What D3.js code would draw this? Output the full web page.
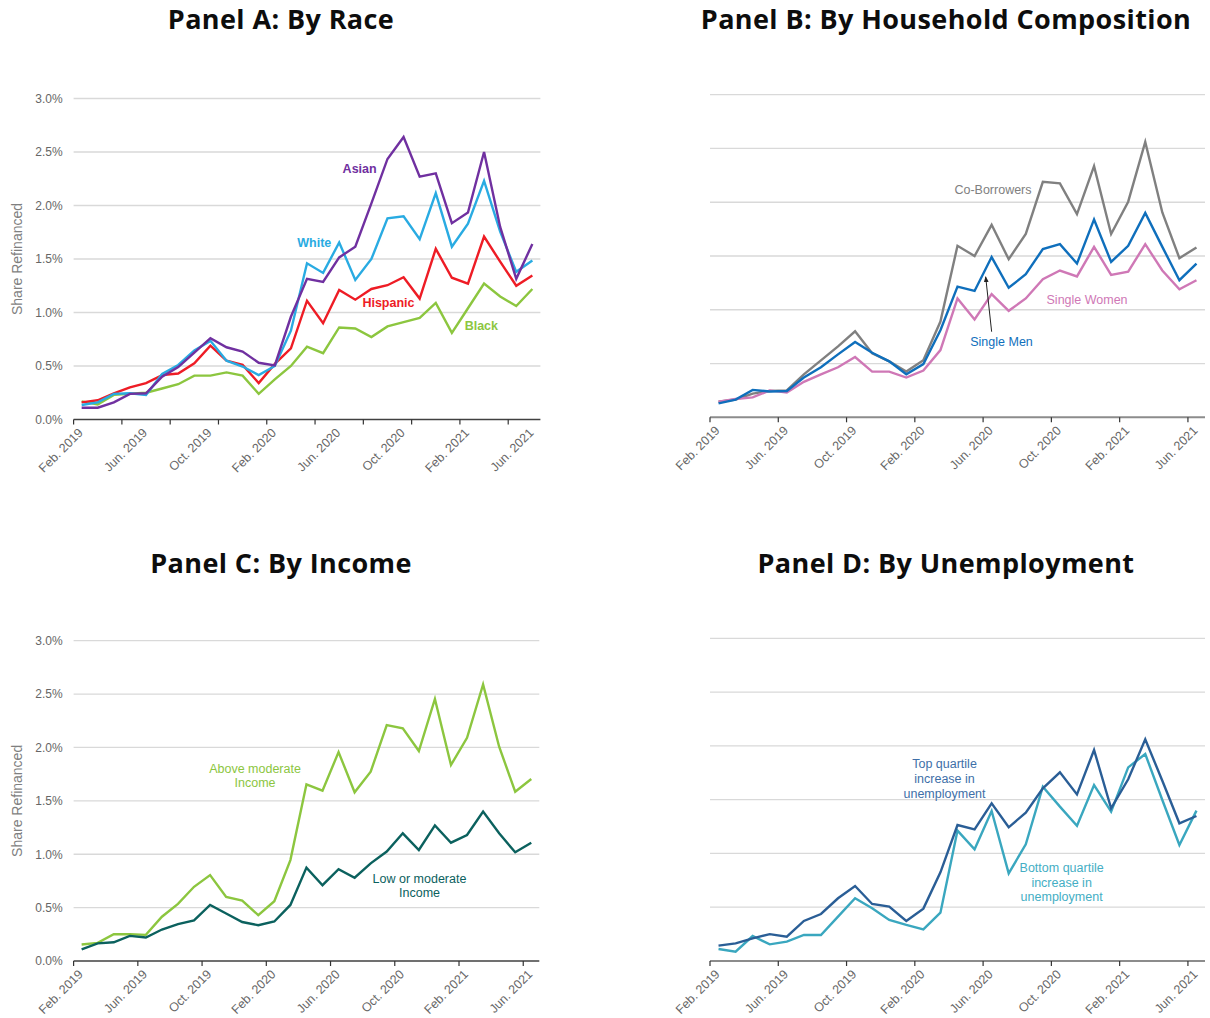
<!DOCTYPE html>
<meta charset="utf-8">
<head>
  <script src="https://cdn.jsdelivr.net/npm/d3@7"></script>
  <style>
    body { margin: 0; background: #fff; font-family: 'Liberation Sans', Arial, sans-serif; }
  </style>
</head>
<body>
<div id="chart"></div>
<script>
  // months on the x axis, Feb. 2019 .. Jun. 2021
  const months = ["Feb. 2019", "Mar. 2019", "Apr. 2019", "May 2019", "Jun. 2019", "Jul. 2019", "Aug. 2019",
    "Sep. 2019", "Oct. 2019", "Nov. 2019", "Dec. 2019", "Jan. 2020", "Feb. 2020", "Mar. 2020", "Apr. 2020",
    "May 2020", "Jun. 2020", "Jul. 2020", "Aug. 2020", "Sep. 2020", "Oct. 2020", "Nov. 2020", "Dec. 2020",
    "Jan. 2021", "Feb. 2021", "Mar. 2021", "Apr. 2021", "May 2021", "Jun. 2021"];
  const monthLabels = ["Feb. 2019", "Jun. 2019", "Oct. 2019", "Feb. 2020", "Jun. 2020", "Oct. 2020", "Feb. 2021", "Jun. 2021"];
  const yTicks = [0, 0.5, 1.0, 1.5, 2.0, 2.5, 3.0];

  // Panel A: by race (share refinanced, %)
  const asian = [0.11, 0.11, 0.16, 0.24, 0.245, 0.40, 0.49, 0.625, 0.76, 0.675, 0.635, 0.53, 0.505, 0.96, 1.315, 1.285, 1.515, 1.615, 2.02, 2.435, 2.64, 2.27, 2.30, 1.835, 1.935, 2.50, 1.80, 1.315, 1.64];
  const white = [0.135, 0.16, 0.24, 0.245, 0.23, 0.425, 0.51, 0.645, 0.735, 0.55, 0.495, 0.415, 0.50, 0.83, 1.46, 1.37, 1.655, 1.305, 1.50, 1.88, 1.90, 1.685, 2.115, 1.615, 1.83, 2.23, 1.755, 1.38, 1.485];
  const hispanic = [0.16, 0.18, 0.245, 0.30, 0.34, 0.415, 0.43, 0.525, 0.69, 0.55, 0.51, 0.34, 0.52, 0.665, 1.11, 0.90, 1.21, 1.12, 1.22, 1.255, 1.33, 1.13, 1.595, 1.325, 1.27, 1.71, 1.475, 1.25, 1.345];
  const black = [0.17, 0.14, 0.23, 0.24, 0.25, 0.29, 0.33, 0.41, 0.41, 0.44, 0.41, 0.24, 0.375, 0.50, 0.68, 0.62, 0.86, 0.85, 0.77, 0.87, 0.91, 0.95, 1.09, 0.81, 1.04, 1.27, 1.15, 1.06, 1.22];

  // Panel B: by household composition
  const coBorrowers = [0.145, 0.165, 0.22, 0.245, 0.25, 0.40, 0.53, 0.66, 0.80, 0.595, 0.52, 0.425, 0.53, 0.89, 1.595, 1.50, 1.79, 1.47, 1.705, 2.19, 2.175, 1.89, 2.335, 1.705, 2.005, 2.56, 1.905, 1.48, 1.58];
  const singleMen = [0.13, 0.165, 0.255, 0.24, 0.245, 0.37, 0.465, 0.585, 0.70, 0.60, 0.52, 0.40, 0.495, 0.81, 1.215, 1.175, 1.49, 1.205, 1.33, 1.565, 1.61, 1.43, 1.84, 1.445, 1.595, 1.90, 1.585, 1.275, 1.43];
  const singleWomen = [0.145, 0.17, 0.185, 0.25, 0.23, 0.33, 0.40, 0.465, 0.56, 0.425, 0.425, 0.37, 0.435, 0.625, 1.105, 0.91, 1.145, 0.99, 1.105, 1.285, 1.365, 1.31, 1.585, 1.325, 1.355, 1.61, 1.365, 1.19, 1.275];

  // Panel C: by income
  const aboveModerate = [0.155, 0.17, 0.25, 0.25, 0.245, 0.415, 0.535, 0.695, 0.805, 0.60, 0.565, 0.43, 0.56, 0.945, 1.655, 1.595, 1.957, 1.58, 1.773, 2.21, 2.18, 1.967, 2.454, 1.836, 2.09, 2.59, 2.007, 1.586, 1.705];
  const lowModerate = [0.11, 0.165, 0.175, 0.235, 0.22, 0.295, 0.345, 0.38, 0.525, 0.445, 0.365, 0.335, 0.37, 0.525, 0.875, 0.71, 0.86, 0.78, 0.915, 1.025, 1.196, 1.04, 1.27, 1.108, 1.18, 1.40, 1.196, 1.018, 1.108];

  // Panel D: by unemployment
  const topQuartile = [0.143, 0.164, 0.21, 0.25, 0.226, 0.372, 0.437, 0.583, 0.697, 0.53, 0.505, 0.372, 0.487, 0.824, 1.264, 1.224, 1.466, 1.243, 1.379, 1.605, 1.754, 1.549, 1.962, 1.419, 1.689, 2.061, 1.676, 1.28, 1.348];
  const bottomQuartile = [0.112, 0.087, 0.232, 0.155, 0.18, 0.242, 0.242, 0.412, 0.583, 0.49, 0.381, 0.335, 0.294, 0.449, 1.212, 1.038, 1.394, 0.815, 1.085, 1.621, 1.435, 1.258, 1.636, 1.388, 1.80, 1.924, 1.497, 1.078, 1.398];

  const panels = [
    {
      title: "Panel A: By Race", tx: 281, ty: 29,
      x0: 73.6, x1: 540.4, y0: 419.5, y1: 98.5, tickEvery: 3, yLabels: true, axisColor: "#404040",
      series: [
        { values: black, color: "#8CC63F" },
        { values: hispanic, color: "#EE1C25" },
        { values: white, color: "#29ABE2" },
        { values: asian, color: "#7030A0" }
      ],
      notes: [
        { lines: ["Asian"], i: 17.27, v: 2.348, color: "#7030A0", bold: true },
        { lines: ["White"], i: 14.45, v: 1.65, color: "#29ABE2", bold: true },
        { lines: ["Hispanic"], i: 19.06, v: 1.092, color: "#EE1C25", bold: true },
        { lines: ["Black"], i: 24.83, v: 0.877, color: "#8CC63F", bold: true }
      ]
    },
    {
      title: "Panel B: By Household Composition", tx: 946, ty: 29,
      x0: 710, x1: 1205, y0: 417.3, y1: 94.7, tickEvery: 4, yLabels: false, axisColor: "#8c8c8c",
      series: [
        { values: coBorrowers, color: "#808080" },
        { values: singleWomen, color: "#CF78B6" },
        { values: singleMen, color: "#0F6FBC" }
      ],
      notes: [
        { lines: ["Co-Borrowers"], i: 16.08, v: 2.114, color: "#808080" },
        { lines: ["Single Women"], i: 21.59, v: 1.091, color: "#CF78B6" },
        { lines: ["Single Men"], i: 16.58, v: 0.703, color: "#0F6FBC" }
      ],
      arrow: { from: [16.0, 0.796], to: [15.65, 1.307] }
    },
    {
      title: "Panel C: By Income", tx: 281, ty: 573,
      x0: 73.6, x1: 539.3, y0: 961, y1: 640.7, tickEvery: 4, yLabels: true, axisColor: "#404040",
      series: [
        { values: aboveModerate, color: "#8CC63F" },
        { values: lowModerate, color: "#0B615E" }
      ],
      notes: [
        { lines: ["Above moderate", "Income"], i: 10.8, v: 1.737, color: "#8CC63F" },
        { lines: ["Low or moderate", "Income"], i: 21.04, v: 0.705, color: "#0B615E" }
      ]
    },
    {
      title: "Panel D: By Unemployment", tx: 946, ty: 573,
      x0: 710, x1: 1205, y0: 961, y1: 638.3, tickEvery: 4, yLabels: false, axisColor: "#8c8c8c",
      series: [
        { values: bottomQuartile, color: "#3AA7BF" },
        { values: topQuartile, color: "#2A5E96" }
      ],
      notes: [
        { lines: ["Top quartile", "increase in", "unemployment"], i: 13.24, v: 1.695, color: "#3E6FA8" },
        { lines: ["Bottom quartile", "increase in", "unemployment"], i: 20.1, v: 0.732, color: "#44AEC4" }
      ]
    }
  ];

  const svg = d3.select("#chart").append("svg")
    .attr("width", 1210).attr("height", 1018);

  svg.append("defs").append("marker")
    .attr("id", "arrowhead")
    .attr("viewBox", "0 0 10 10").attr("refX", 9).attr("refY", 5)
    .attr("markerWidth", 6).attr("markerHeight", 6).attr("orient", "auto-start-reverse")
    .append("path").attr("d", "M0,1 L10,5 L0,9 z").attr("fill", "#222");

  panels.forEach(drawPanel);

  function drawPanel(p) {
    const x = d3.scaleBand().domain(months).range([p.x0, p.x1]).padding(0);
    const bw = x.bandwidth();
    const cx = i => p.x0 + bw * (i + 0.5);
    const y = d3.scaleLinear().domain([0, 3]).range([p.y0, p.y1]);
    const g = svg.append("g");

    g.append("text")
      .attr("x", p.tx).attr("y", p.ty)
      .attr("text-anchor", "middle")
      .style("font-family", "'Open Sans', 'Noto Sans', sans-serif")
      .style("font-weight", 700).style("font-size", "27px")
      .style("letter-spacing", "0.4px")
      .attr("fill", "#0d0d0d")
      .text(p.title);

    // gridlines
    g.selectAll(".grid").data(yTicks.filter(d => d > 0)).enter().append("line")
      .attr("x1", p.x0).attr("x2", p.x1)
      .attr("y1", d => y(d)).attr("y2", d => y(d))
      .attr("stroke", "#d9d9d9").attr("stroke-width", 1.3);

    if (p.yLabels) {
      const ya = g.append("g")
        .attr("transform", `translate(${p.x0},0)`)
        .call(d3.axisLeft(y).tickValues(yTicks).tickFormat(d => d.toFixed(1) + "%").tickSize(0).tickPadding(11));
      ya.select(".domain").remove();
      ya.selectAll("text").attr("fill", "#666").style("font-size", "12px")
        .style("font-family", "'Liberation Sans', Arial, sans-serif");

      g.append("text")
        .attr("transform", `translate(22,${(p.y0 + p.y1) / 2}) rotate(-90)`)
        .attr("text-anchor", "middle")
        .attr("fill", "#7f7f7f").style("font-size", "14px")
        .text("Share Refinanced");
    }

    // x axis line + ticks at category boundaries
    g.append("line")
      .attr("x1", p.x0).attr("x2", p.x1).attr("y1", p.y0).attr("y2", p.y0)
      .attr("stroke", p.axisColor).attr("stroke-width", p.yLabels ? 1.3 : 2);
    const tickIdx = d3.range(0, months.length, p.tickEvery);
    g.selectAll(".tick-m").data(tickIdx).enter().append("line")
      .attr("x1", d => p.x0 + d * bw).attr("x2", d => p.x0 + d * bw)
      .attr("y1", p.y0).attr("y2", p.y0 + 5)
      .attr("stroke", "#333").attr("stroke-width", 1.2);

    g.selectAll(".xlab").data(monthLabels).enter().append("text")
      .attr("transform", d => `translate(${x(d) + bw / 2 + 2},${p.y0 + 14}) rotate(-45)`)
      .attr("text-anchor", "end")
      .attr("fill", "#666").style("font-size", "12.5px")
      .text(d => d);

    const line = d3.line().x((d, i) => cx(i)).y(d => y(d));
    p.series.forEach(s => {
      g.append("path")
        .attr("d", line(s.values))
        .attr("fill", "none")
        .attr("stroke", s.color).attr("stroke-width", 2.4)
        .attr("stroke-linejoin", "miter");
    });

    p.notes.forEach(n => {
      const lh = 14.7;
      const t = g.append("text")
        .attr("text-anchor", "middle")
        .attr("fill", n.color)
        .style("font-size", "12.5px")
        .style("font-weight", n.bold ? 700 : 400);
      const top = y(n.v) - (n.lines.length - 1) * lh / 2;
      n.lines.forEach((l, k) => {
        t.append("tspan").attr("x", cx(n.i)).attr("y", top + k * lh).attr("dy", "0.35em").text(l);
      });
    });

    if (p.arrow) {
      g.append("line")
        .attr("x1", cx(p.arrow.from[0])).attr("y1", y(p.arrow.from[1]))
        .attr("x2", cx(p.arrow.to[0])).attr("y2", y(p.arrow.to[1]))
        .attr("stroke", "#222").attr("stroke-width", 1)
        .attr("marker-end", "url(#arrowhead)");
    }
  }
</script>
</body>
